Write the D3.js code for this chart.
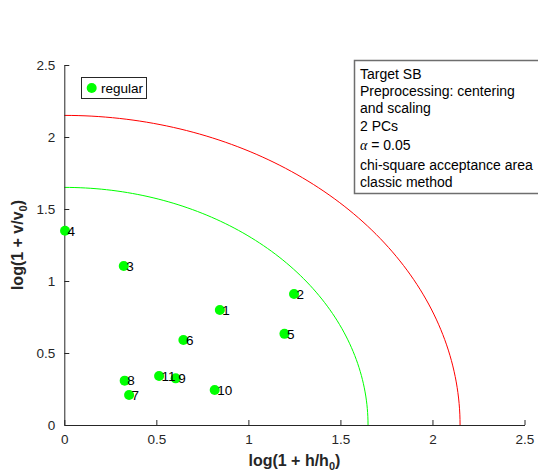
<!DOCTYPE html>
<html>
<head>
<meta charset="utf-8">
<script src="https://cdn.jsdelivr.net/npm/d3@7"></script>
<style>
  html, body { margin: 0; padding: 0; background: #fff; }
  svg { display: block; font-family: Arial, "Liberation Sans", sans-serif; }
</style>
</head>
<body>
<svg id="chart" width="538" height="472"></svg>
<script>
// ---- data ----
const pointLabels = ["1","2","3","4","5","6","7","8","9","10","11"];
const xValues = [0.845, 1.248, 0.323, 0.004, 1.196, 0.647, 0.352, 0.328, 0.605, 0.817, 0.515];
const yValues = [0.799, 0.910, 1.104, 1.349, 0.633, 0.590, 0.208, 0.308, 0.324, 0.243, 0.340];
const xTicks = [0, 0.5, 1, 1.5, 2, 2.5];
const yTicks = [0, 0.5, 1, 1.5, 2, 2.5];
const limitRadii = [2.15, 1.65];          // red (outer), green (inner) acceptance limits
const limitColors = ["#ff0000", "#00ff00"];
const infoLines = ["Target SB", "Preprocessing: centering", "and scaling", "2 PCs", "\u03B1 = 0.05", "chi-square acceptance area", "classic method"];
const legendLabel = "regular";

// ---- layout ----
const svg = d3.select("#chart");
const mLeft = 64.3, mRight = 524.5, mTop = 65, mBottom = 425;
const x = d3.scaleLinear().domain([0, 2.5]).range([mLeft, mRight]);
const y = d3.scaleLinear().domain([0, 2.5]).range([mBottom, mTop]);
const axisColor = "#262626";

// limit curves (quarter circles in data space)
limitRadii.forEach((r, i) => {
  const angles = d3.range(0, 91).map(a => a * Math.PI / 180);
  const line = d3.line()
    .x(t => x(r * Math.cos(t)))
    .y(t => y(r * Math.sin(t)));
  svg.append("path")
    .attr("d", line(angles))
    .attr("fill", "none")
    .attr("stroke", limitColors[i])
    .attr("stroke-width", 1);
});

// axes
const xAxis = d3.axisBottom(x).tickValues(xTicks).tickSizeInner(-5).tickSizeOuter(0).tickPadding(9)
  .tickFormat(d3.format("~g"));
const yAxis = d3.axisLeft(y).tickValues(yTicks).tickSizeInner(-5).tickSizeOuter(0).tickPadding(9)
  .tickFormat(d3.format("~g"));

const gx = svg.append("g").attr("transform", `translate(0,${mBottom})`).call(xAxis);
const gy = svg.append("g").attr("transform", `translate(${mLeft},0)`).call(yAxis);
[gx, gy].forEach(g => {
  g.select(".domain").attr("stroke", axisColor).attr("stroke-width", 1);
  g.selectAll(".tick line").attr("stroke", axisColor);
  g.selectAll(".tick text").attr("fill", axisColor).style("font-size", "13.5px")
    .style("font-family", "Arial, 'Liberation Sans', sans-serif");
});

// axis labels
const xl = svg.append("text")
  .attr("x", (mLeft + mRight) / 2).attr("y", 466)
  .attr("text-anchor", "middle")
  .style("font-size", "16px").style("font-weight", "bold").attr("fill", axisColor);
xl.append("tspan").text("log(1 + h/h");
xl.append("tspan").text("0").attr("dy", 4).style("font-size", "11px");
xl.append("tspan").text(")").attr("dy", -4);

const yl = svg.append("text")
  .attr("transform", `translate(23,${(mTop + mBottom) / 2}) rotate(-90)`)
  .attr("text-anchor", "middle")
  .style("font-size", "16px").style("font-weight", "bold").attr("fill", axisColor);
yl.append("tspan").text("log(1 + v/v");
yl.append("tspan").text("0").attr("dy", 4).style("font-size", "11px");
yl.append("tspan").text(")").attr("dy", -4);

// points
const pts = pointLabels.map((lab, i) => ({lab, x: xValues[i], y: yValues[i]}));
svg.append("g").selectAll("circle").data(pts).join("circle")
  .attr("cx", d => x(d.x)).attr("cy", d => y(d.y)).attr("r", 5)
  .attr("fill", "#00ff00");
svg.append("g").selectAll("text").data(pts).join("text")
  .attr("x", d => x(d.x) + 2.5).attr("y", d => y(d.y) + 4.8)
  .style("font-size", "13.5px").attr("fill", "#000")
  .text(d => d.lab);

// legend
svg.append("rect").attr("x", 81.5).attr("y", 77.5).attr("width", 65).attr("height", 21)
  .attr("fill", "#fff").attr("stroke", axisColor).attr("stroke-width", 1);
svg.append("circle").attr("cx", 91.7).attr("cy", 88).attr("r", 5).attr("fill", "#00ff00");
svg.append("text").attr("x", 101).attr("y", 92.8).style("font-size", "13.5px").attr("fill", "#000").text(legendLabel);

// info box
const infoBaselines = [79, 96, 113, 130.5, 150, 169.5, 187];
svg.append("rect").attr("x", 354.5).attr("y", 60.5).attr("width", 200).attr("height", 133)
  .attr("fill", "#fff").attr("stroke", "#6e6e6e").attr("stroke-width", 1.5);
svg.append("g").selectAll("text").data(infoLines).join("text")
  .attr("x", 360).attr("y", (d, i) => infoBaselines[i])
  .style("font-size", "14px").attr("fill", "#000")
  .each(function(d) {
    const t = d3.select(this);
    if (d.startsWith("\u03B1")) {
      t.append("tspan").text("\u03B1").style("font-family", "'Liberation Serif', 'DejaVu Serif', serif").style("font-style", "italic");
      t.append("tspan").text(d.slice(1));
    } else {
      t.text(d);
    }
  });
</script>
</body>
</html>
